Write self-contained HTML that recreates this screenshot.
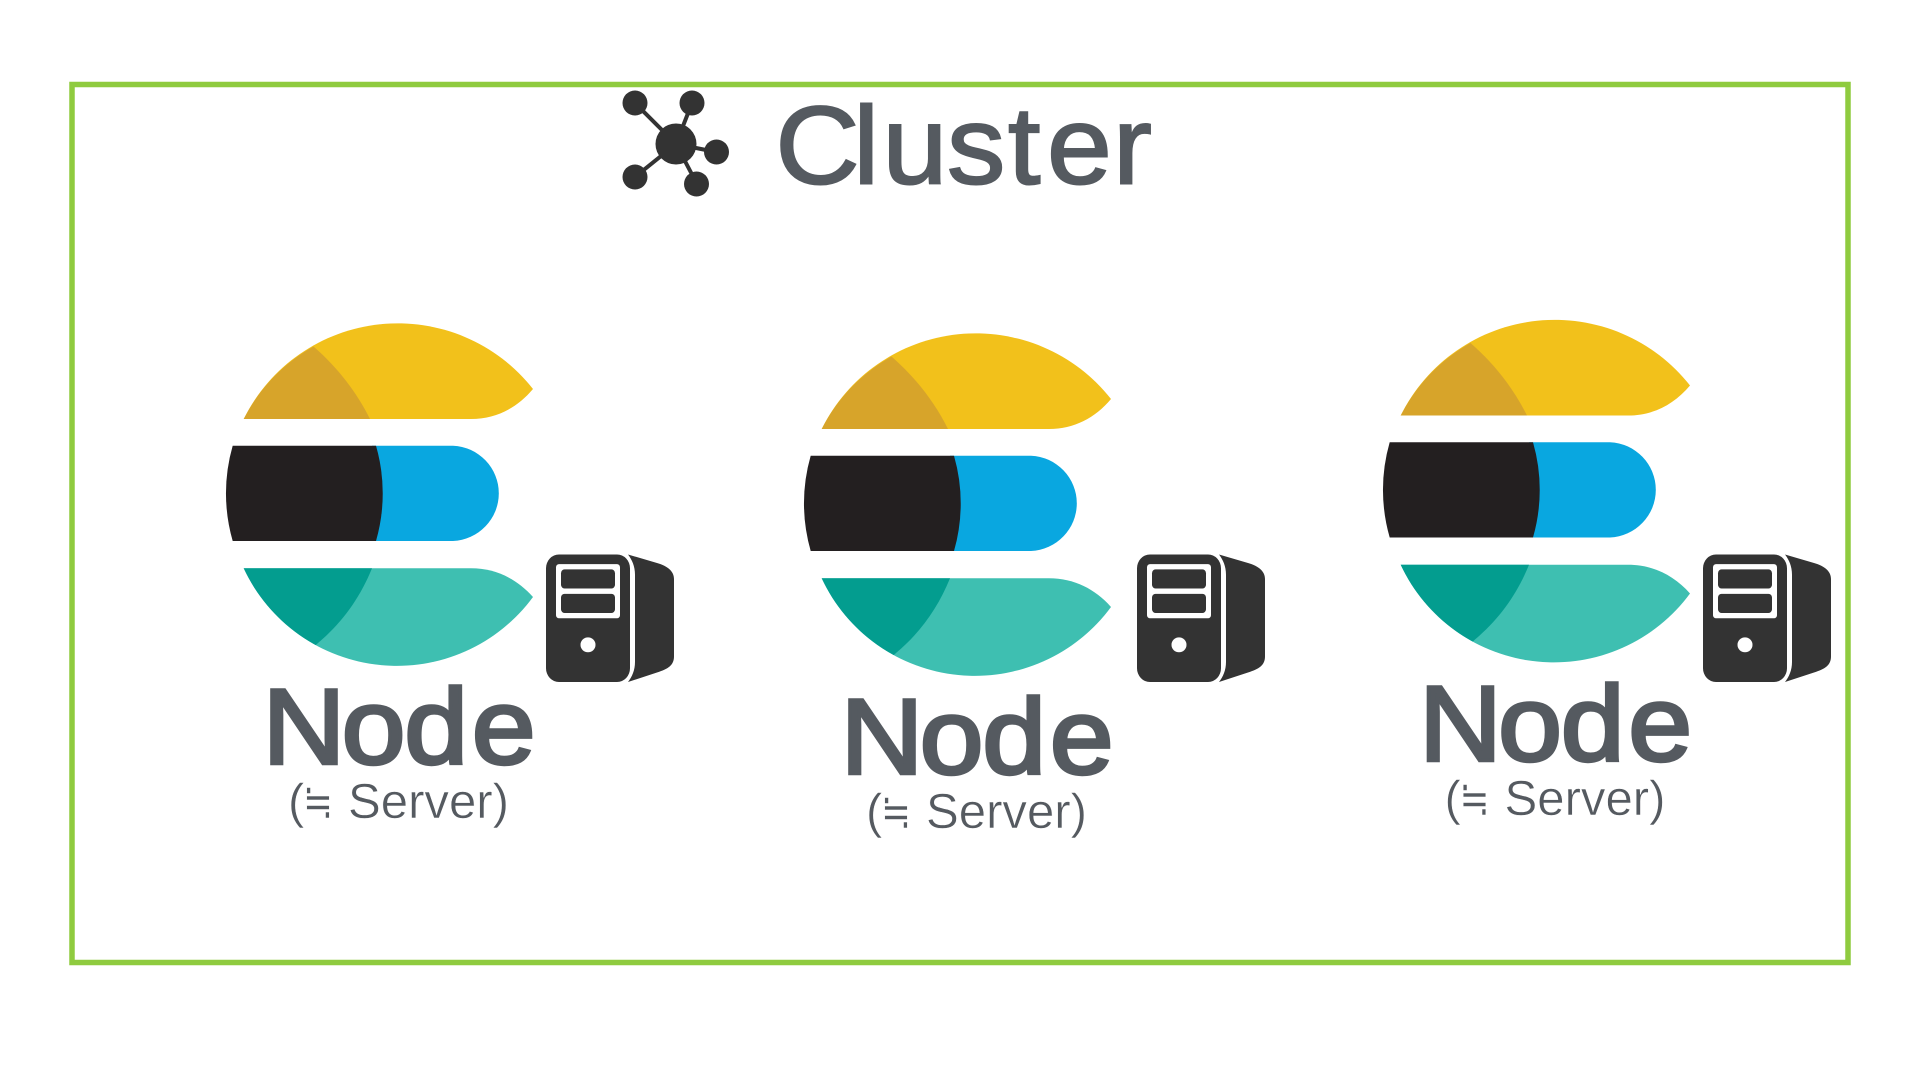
<!DOCTYPE html>
<html>
<head>
<meta charset="utf-8">
<style>
html,body{margin:0;padding:0;background:#fff;width:1920px;height:1080px;overflow:hidden}
svg{display:block}
.n{font-family:"Liberation Sans",sans-serif;font-size:107px;fill:#555a60;stroke:#555a60;stroke-width:3.4px}
.s{font-family:"Liberation Sans","Noto Sans CJK JP",sans-serif;font-size:49px;fill:#555a60;stroke:#fff;stroke-width:.5px}
.c{font-family:"Liberation Sans",sans-serif;font-size:110px;fill:#555a60;stroke:#555a60;stroke-width:2px}
</style>
</head>
<body>
<svg width="1920" height="1080" viewBox="0 0 1920 1080" xmlns="http://www.w3.org/2000/svg">
<defs>
<clipPath id="tc"><path d="M243.7 568.3A169 169 0 0 0 533 597C517 579 496 568.3 471 568.3Z"/></clipPath>
<g id="logo">
  <path fill="#f2c11b" d="M243.7 419A172 172 0 0 1 533 389C517 408 496 419 471 419Z"/>
  <path fill="#d7a42a" d="M243.7 419A172 172 0 0 1 313.5 346.5C337 367 356 391 370 419Z"/>
  <path fill="#09a7e0" d="M372 445.7H453A48 47.7 0 0 1 453 541H372Z"/>
  <path fill="#231f20" d="M232.7 445.7H376A172 172 0 0 1 376 541H232.7A172 172 0 0 1 232.7 445.7Z"/>
  <path fill="#3ebfb1" d="M243.7 568.3A169 169 0 0 0 533 597C517 579 496 568.3 471 568.3Z"/>
  <path fill="#039d8f" clip-path="url(#tc)" d="M230 560V660H300L318 643C342 623 360 598 372 568.3V560Z"/>
</g>
<g id="srv" transform="translate(0,554.5) scale(1,1.0625) translate(0,-537)">
  <rect x="546" y="537" width="84" height="120" rx="13" fill="#333"/>
  <rect x="556" y="546" width="64" height="51" rx="3" fill="#fff"/>
  <rect x="561" y="551" width="54" height="18" rx="3.5" fill="#333"/>
  <rect x="561" y="574" width="54" height="18" rx="3.5" fill="#333"/>
  <ellipse cx="588" cy="622" rx="7.5" ry="7" fill="#fff"/>
  <path fill="#333" d="M628 537L657 545C668 548 674 553 674 560V633C674 641 668 645 657 648L628 657C632 652 635 646 635 638V556C635 548 632 542 628 537Z"/>
</g>
</defs>
<rect x="72" y="84.5" width="1776" height="878" fill="none" stroke="#8fcb3f" stroke-width="5.5"/>

<!-- cluster icon -->
<g stroke="#333" stroke-width="4">
  <line x1="676" y1="144" x2="635" y2="103"/>
  <line x1="676" y1="144" x2="692" y2="103"/>
  <line x1="676" y1="144" x2="716" y2="152"/>
  <line x1="676" y1="144" x2="635" y2="177"/>
  <line x1="676" y1="144" x2="697" y2="184"/>
</g>
<g fill="#333">
  <ellipse cx="676" cy="144" rx="20.5" ry="20.5"/>
  <ellipse cx="635" cy="103" rx="12.5" ry="12.5"/>
  <ellipse cx="692" cy="103" rx="12.5" ry="12.5"/>
  <ellipse cx="716.5" cy="152" rx="12.5" ry="12.5"/>
  <ellipse cx="635" cy="177" rx="12.5" ry="12.5"/>
  <ellipse cx="696.5" cy="184" rx="12.5" ry="12.5"/>
</g>
<text class="c" transform="scale(1.06,1)" x="731.5 805 832.5 893.4 951 987.8 1050" y="183.5">Cluster</text>

<!-- node 1 -->
<use href="#logo"/>
<use href="#srv"/>
<g>
<text class="n" transform="scale(1.07,1)" x="245.5 319.4 377.9 441" y="763.5">Node</text>
<text class="s" x="288" y="818">(</text>
<text class="s" x="303" y="818" textLength="30" lengthAdjust="spacingAndGlyphs">≒</text>
<text class="s" x="348" y="818" textLength="161" lengthAdjust="spacingAndGlyphs">Server)</text>
</g>

<!-- node 2 -->
<use href="#logo" x="578" y="10"/>
<g transform="translate(591,0)"><use href="#srv"/></g>
<g transform="translate(578,10)">
<text class="n" transform="scale(1.07,1)" x="245.5 319.4 377.9 441" y="763.5">Node</text>
<text class="s" x="288" y="818">(</text>
<text class="s" x="303" y="818" textLength="30" lengthAdjust="spacingAndGlyphs">≒</text>
<text class="s" x="348" y="818" textLength="161" lengthAdjust="spacingAndGlyphs">Server)</text>
</g>

<!-- node 3 -->
<use href="#logo" x="1157" y="-3.5"/>
<g transform="translate(1157,0)"><use href="#srv"/></g>
<g transform="translate(1156.5,-3)">
<text class="n" transform="scale(1.07,1)" x="245.5 319.4 377.9 441" y="763.5">Node</text>
<text class="s" x="288" y="818">(</text>
<text class="s" x="303" y="818" textLength="30" lengthAdjust="spacingAndGlyphs">≒</text>
<text class="s" x="348" y="818" textLength="161" lengthAdjust="spacingAndGlyphs">Server)</text>
</g>
</svg>
</body>
</html>
